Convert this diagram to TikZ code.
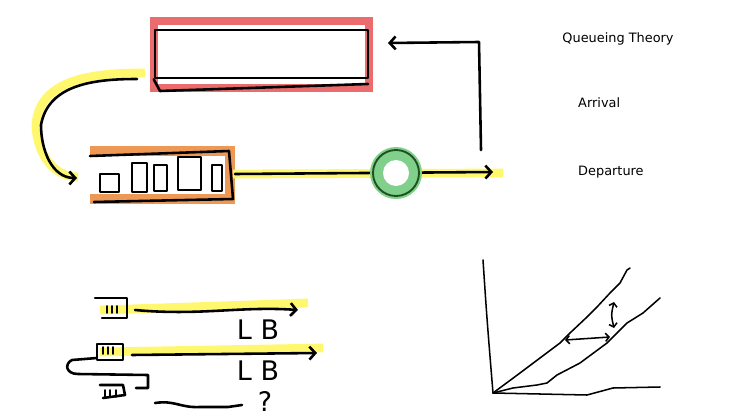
\documentclass[tikz,border=0pt]{standalone}
\usepackage{fontspec}
\setmainfont{DejaVu Sans}
\usetikzlibrary{arrows.meta,positioning}
\definecolor{hlyel}{RGB}{255,248,110}
\definecolor{hlred}{RGB}{234,108,110}
\definecolor{hlorg}{RGB}{238,152,86}
\definecolor{hlgrn}{RGB}{128,208,140}
\definecolor{dkgrn}{RGB}{30,80,30}
\tikzset{pen/.style={line width=2.2pt,line cap=round,line join=round},
 fine/.style={line width=1.3pt,line cap=round,line join=round},
 hy/.style={hlyel,line width=7.5pt},
 barb/.style={-{Straight Barb[length=5pt,width=11pt]}},
 lbl/.style={font=\fontsize{11}{13}\selectfont},
 big/.style={font=\fontsize{23}{25}\selectfont}}

\begin{document}
\begin{tikzpicture}[x=0.3mm,y=-0.3mm]
\useasboundingbox (0,0) rectangle (731,419);
% server box (top)
\draw[hlred,line width=7pt](154,21)rectangle(369,88);
\node[pen,draw,inner sep=0,minimum width=63.9mm,minimum height=14.4mm](box)at(261.5,54){};
\draw[pen](box.south west)--(160,91)--(368,84);
% arrival path
\draw[hy](145,73)to[out=180,in=85](36,124)to[out=-90,in=180](78,177);
\coordinate(arr)at(137,79);\coordinate(qin)at(77,178);
\draw[pen,barb](arr)to[out=180,in=80](41,125)to[out=-90,in=180](qin);
% queue
\draw[hlorg,line width=9pt](90,151)--(230,151)--(230,199)--(90,199);
\draw[pen](90,156)--(229,151)--(233,199)--(94,202);
\foreach \a/\b/\c/\d in {100/174/119/192,132/163/147/192,154/165/167/191,178/157/201/190,212/165/222/191}
 {\draw[pen](\a,\b)rectangle(\c,\d);}
\coordinate(qout)at(235,174);\coordinate(dep)at(493,172);
\draw[hy](233,174)--(503,173);
\draw[pen,barb](qout)--(dep);
% server
\node[circle,inner sep=0,minimum size=14.4mm](srv)at(396,173){};
\fill[hlgrn](srv)circle(26);\fill[white](srv)circle(13);
\draw[dkgrn,line width=1.6pt](srv)circle(23);
% feedback
\coordinate(fb)at(481,150);\coordinate(fbin)at(388,43);
\draw[pen,barb](fb)--(479,42)--(fbin);
% labels
\node[lbl](t0)at(618,39){Queueing Theory};
\node[lbl,anchor=west,inner sep=0](t1)at(578,103){Arrival};
\node[lbl,anchor=west,inner sep=0](t2)at(578,172){Departure};
% jobs
\draw[hy](100,310)--(308,303);\draw[hy](100,352)--(323,348);
\draw[pen](95,298)--(127,298)--(127,318)--(102,318);
\foreach \x in {107,112,117}{\draw[fine](\x,306)--(\x,313);}
\draw[pen](97,344)rectangle(123,360);
\foreach \x in {103,108,113}{\draw[fine](\x,347)--(\x,354);}
\draw[pen](100,385)--(123,385)--(125,395)--(103,398);
\foreach \x in {105,110,116}{\draw[fine](\x,390)--(\x,397);}
\coordinate(j1)at(135,310);\coordinate(j1e)at(298,310);
\coordinate(j2)at(132,355);\coordinate(j2e)at(317,353);
\draw[pen,barb](j1)..controls(200,316)and(240,306)..(j1e);
\draw[pen,barb](j2)--(j2e);
\draw[pen](97,358)--(72,360)..controls(64,364)and(66,374)..(78,374)--(148,375)--(148,388)--(136,388);
\draw[pen](155,403)..controls(175,400)and(180,408)..(200,407)--(228,407)--(242,405);
\node[big](lb1)at(258,330){L B};
\node[big](lb2)at(258,371){L B};
\node[big](q)at(265,401){?};
% graph
\coordinate(o)at(493,393);
\draw[fine](483,260)..controls(487,320)..(o)--(540,394)--(587,395)--(613,388)--(660,387);
\draw[fine](o)--(520,373)--(540,358)--(560,343)--(570,333)--(587,317)--(597,307)--(610,293)--(620,283)--(627,270)--(630,268);
\draw[fine](o)--(513,388)--(537,385)--(547,383)--(557,375)--(580,363)--(607,343)--(617,333)--(627,323)--(643,313)--(660,298);
\draw[fine,{Straight Barb[length=3pt,width=7pt]}-{Straight Barb[length=3pt,width=7pt]}](565,340)--(610,337);
\draw[fine,{Straight Barb[length=3pt,width=7pt]}-{Straight Barb[length=3pt,width=7pt]}](614,302)..controls(611,315)..(614,328);
\end{tikzpicture}
\end{document}
